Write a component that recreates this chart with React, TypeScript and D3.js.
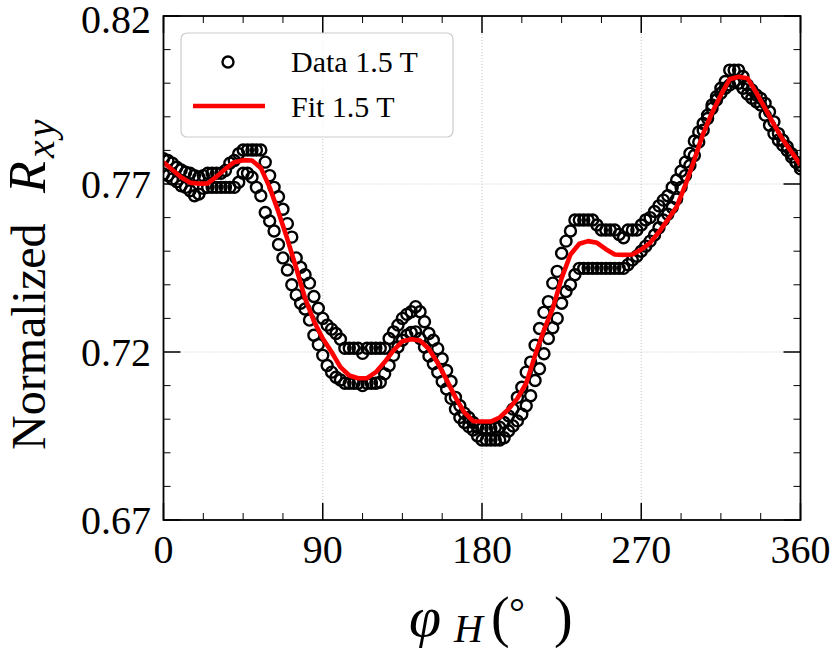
import React, { useEffect } from 'react';
import * as d3 from 'd3';

// angle step (degrees) of the measured data
const DATA_STEP = 2.5;

// upper measured branch, 0..360 deg every 2.5 deg
const upperBranch = [
  0.7775, 0.7770, 0.7762, 0.7750, 0.7742, 0.7735, 0.7732, 0.7725, 0.7720, 0.7725,
  0.7732, 0.7732, 0.7732, 0.7732, 0.7740, 0.7762, 0.7770, 0.7790, 0.7801, 0.7801,
  0.7801, 0.7801, 0.7801, 0.7765, 0.7725, 0.7690, 0.7662, 0.7625, 0.7582, 0.7542,
  0.7480, 0.7452, 0.7430, 0.7405, 0.7365, 0.7330, 0.7300, 0.7280, 0.7268, 0.7255,
  0.7238, 0.7211, 0.7211, 0.7211, 0.7211, 0.7196, 0.7211, 0.7211, 0.7211, 0.7211,
  0.7211, 0.7240, 0.7260, 0.7280, 0.7300, 0.7312, 0.7320, 0.7335, 0.7320, 0.7290,
  0.7255, 0.7235, 0.7210, 0.7180, 0.7145, 0.7112, 0.7065, 0.7040, 0.7018, 0.7005,
  0.6990, 0.6976, 0.6972, 0.6972, 0.6972, 0.6976, 0.6976, 0.6990, 0.7010, 0.7030,
  0.7065, 0.7095, 0.7140, 0.7170, 0.7220, 0.7270, 0.7318, 0.7350, 0.7405, 0.7440,
  0.7494, 0.7530, 0.7560, 0.7593, 0.7593, 0.7593, 0.7593, 0.7593, 0.7578, 0.7563,
  0.7563, 0.7563, 0.7563, 0.7550, 0.7540, 0.7563, 0.7563, 0.7563, 0.7578, 0.7593,
  0.7600, 0.7618, 0.7635, 0.7652, 0.7665, 0.7690, 0.7712, 0.7738, 0.7765, 0.7791,
  0.7828, 0.7855, 0.7880, 0.7905, 0.7935, 0.7960, 0.7985, 0.8005, 0.8039, 0.8039,
  0.8039, 0.8020, 0.7995, 0.7980, 0.7965, 0.7955, 0.7940, 0.7915, 0.7885, 0.7850,
  0.7830, 0.7811, 0.7790, 0.7765, 0.7745,
];

// lower measured branch, same angles
const lowerBranch = [
  0.7730, 0.7725, 0.7715, 0.7707, 0.7695, 0.7690, 0.7680, 0.7665, 0.7670, 0.7687,
  0.7690, 0.7690, 0.7690, 0.7690, 0.7690, 0.7690, 0.7690, 0.7705, 0.7732, 0.7732,
  0.7720, 0.7690, 0.7665, 0.7615, 0.7590, 0.7560, 0.7520, 0.7480, 0.7444, 0.7400,
  0.7370, 0.7345, 0.7328, 0.7295, 0.7250, 0.7222, 0.7190, 0.7160, 0.7140, 0.7125,
  0.7117, 0.7107, 0.7107, 0.7107, 0.7107, 0.7100, 0.7107, 0.7107, 0.7107, 0.7110,
  0.7135, 0.7160, 0.7190, 0.7215, 0.7235, 0.7250, 0.7258, 0.7260, 0.7240, 0.7215,
  0.7188, 0.7165, 0.7140, 0.7112, 0.7090, 0.7062, 0.7030, 0.7005, 0.6990, 0.6978,
  0.6968, 0.6950, 0.6938, 0.6938, 0.6938, 0.6938, 0.6938, 0.6945, 0.6965, 0.6980,
  0.6995, 0.7015, 0.7040, 0.7070, 0.7115, 0.7150, 0.7195, 0.7240, 0.7272, 0.7300,
  0.7345, 0.7380, 0.7400, 0.7430, 0.7449, 0.7449, 0.7449, 0.7449, 0.7449, 0.7449,
  0.7449, 0.7449, 0.7449, 0.7449, 0.7449, 0.7460, 0.7474, 0.7485, 0.7500, 0.7515,
  0.7530, 0.7548, 0.7570, 0.7593, 0.7610, 0.7630, 0.7655, 0.7690, 0.7725, 0.7755,
  0.7785, 0.7825, 0.7860, 0.7895, 0.7925, 0.7950, 0.7970, 0.7985, 0.7995, 0.8005,
  0.8000, 0.7985, 0.7968, 0.7955, 0.7945, 0.7935, 0.7905, 0.7875, 0.7850, 0.7830,
  0.7815, 0.7800, 0.7780, 0.7765, 0.7755,
];

// fit curve, every 5 deg
const FIT_STEP = 5;
const fitValues = [
  0.7765, 0.7742, 0.7720, 0.7704, 0.7701, 0.7702, 0.7722, 0.7745, 0.7765, 0.7771,
  0.7770, 0.7748, 0.7690, 0.7616, 0.7536, 0.7450, 0.7360, 0.7292, 0.7240, 0.7200,
  0.7155, 0.7130, 0.7122, 0.7122, 0.7140, 0.7170, 0.7205, 0.7232, 0.7238, 0.7234,
  0.7209, 0.7167, 0.7117, 0.7065, 0.7020, 0.6994, 0.6993, 0.6993, 0.7005, 0.7030,
  0.7062, 0.7107, 0.7190, 0.7265, 0.7330, 0.7420, 0.7490, 0.7522, 0.7530, 0.7525,
  0.7506, 0.7490, 0.7489, 0.7490, 0.7505, 0.7525, 0.7557, 0.7594, 0.7632, 0.7698,
  0.7772, 0.7850, 0.7912, 0.7965, 0.8012, 0.8019, 0.8015, 0.7972, 0.7925, 0.7877,
  0.7832, 0.7795, 0.7757,
];

const xTicks = [0, 90, 180, 270, 360];
const xMinorStep = 22.5;
const yTicks = [0.67, 0.72, 0.77, 0.82];
const yMinorStep = 0.01;
const legendLabels = ['Data 1.5 T', 'Fit 1.5 T'];

const W = 831;
const H = 652;
const X0 = 163.5;
const X1 = 800.5;
const Y0 = 520;
const Y1 = 16;
const FONT = "'Liberation Serif', 'DejaVu Serif', serif";

export default function App() {
  useEffect(() => {
    document.body.style.margin = '0';
  }, []);

  const x = d3.scaleLinear().domain([0, 360]).range([X0, X1]);
  const y = d3.scaleLinear().domain([0.67, 0.82]).range([Y0, Y1]);

  const points = [
    ...upperBranch.map((v, i) => [i * DATA_STEP, v]),
    ...lowerBranch.map((v, i) => [i * DATA_STEP, v]),
  ];

  const fitLine = d3
    .line<number>()
    .x((_, i) => x(i * FIT_STEP))
    .y((d) => y(d));

  const xMinor = d3.range(0, 360.001, xMinorStep).filter((t) => !xTicks.includes(t));
  const yMinor = d3
    .range(0, 16)
    .map((k) => +(0.67 + k * yMinorStep).toFixed(2))
    .filter((t) => !yTicks.includes(t));

  const majorLen = 17;
  const minorLen = 7;
  const grid = '#c4c4c4';

  return (
    <svg width={W} height={H} style={{ display: 'block', background: '#fff' }} fontFamily={FONT}>
      <defs>
        <clipPath id="plot">
          <rect x={X0} y={Y1} width={X1 - X0} height={Y0 - Y1} />
        </clipPath>
      </defs>

      {/* grid */}
      {xTicks.slice(1, -1).map((t) => (
        <line key={'gx' + t} x1={x(t)} x2={x(t)} y1={Y1} y2={Y0} stroke={grid} strokeWidth={1} strokeDasharray="1,2" />
      ))}
      {yTicks.slice(1, -1).map((t) => (
        <line key={'gy' + t} x1={X0} x2={X1} y1={y(t)} y2={y(t)} stroke={grid} strokeWidth={1} strokeDasharray="1,2" />
      ))}

      <g clipPath="url(#plot)">
        {points.map(([a, v], i) => (
          <circle key={i} cx={x(a)} cy={y(v)} r={5.5} fill="none" stroke="#000" strokeWidth={2.4} />
        ))}
        <path d={fitLine(fitValues) || ''} fill="none" stroke="#ff0000" strokeWidth={4.6} strokeLinejoin="round" />
      </g>

      {/* ticks, inward on all sides */}
      {xTicks.map((t) => (
        <g key={'tx' + t} stroke="#000" strokeWidth={1.5}>
          <line x1={x(t)} x2={x(t)} y1={Y0} y2={Y0 - majorLen} />
          <line x1={x(t)} x2={x(t)} y1={Y1} y2={Y1 + majorLen} />
        </g>
      ))}
      {xMinor.map((t) => (
        <g key={'mx' + t} stroke="#000" strokeWidth={1}>
          <line x1={x(t)} x2={x(t)} y1={Y0} y2={Y0 - minorLen} />
          <line x1={x(t)} x2={x(t)} y1={Y1} y2={Y1 + minorLen} />
        </g>
      ))}
      {yTicks.map((t) => (
        <g key={'ty' + t} stroke="#000" strokeWidth={1.5}>
          <line x1={X0} x2={X0 + majorLen} y1={y(t)} y2={y(t)} />
          <line x1={X1} x2={X1 - majorLen} y1={y(t)} y2={y(t)} />
        </g>
      ))}
      {yMinor.map((t) => (
        <g key={'my' + t} stroke="#000" strokeWidth={1}>
          <line x1={X0} x2={X0 + minorLen} y1={y(t)} y2={y(t)} />
          <line x1={X1} x2={X1 - minorLen} y1={y(t)} y2={y(t)} />
        </g>
      ))}

      <rect x={X0} y={Y1} width={X1 - X0} height={Y0 - Y1} fill="none" stroke="#000" strokeWidth={1.8} />

      {/* tick labels */}
      {xTicks.map((t) => (
        <text key={'lx' + t} x={x(t)} y={563} textAnchor="middle" fontSize={40} fill="#000">
          {t}
        </text>
      ))}
      {yTicks.map((t) => (
        <text key={'ly' + t} x={151} y={Math.max(y(t), 19)} dy="0.36em" textAnchor="end" fontSize={40} fill="#000">
          {t.toFixed(2)}
        </text>
      ))}

      {/* axis labels */}
      <g transform="translate(45, 450) rotate(-90)" fill="#000">
        <text x={0} y={0} fontSize={48}>Normalized</text>
        <text x={257} y={0} fontSize={52} fontStyle="italic">R</text>
        <text x={292} y={9} fontSize={40} fontStyle="italic" letterSpacing={3}>xy</text>
      </g>
      <g fill="#000">
        <text x={409} y={636} fontSize={58} fontStyle="italic">φ</text>
        <text x={454} y={642} fontSize={40} fontStyle="italic">H</text>
        <text x={491} y={636} fontSize={56}>(</text>
        <text x={509} y={626} fontSize={40}>°</text>
        <text x={554} y={636} fontSize={56}>)</text>
      </g>

      {/* legend */}
      <g>
        <rect x={181} y={33} width={272} height={104} rx={6} fill="#fff" fillOpacity={0.8} stroke="#cccccc" strokeWidth={1.2} />
        <circle cx={228} cy={62} r={5.5} fill="none" stroke="#000" strokeWidth={2.4} />
        <line x1={193} x2={265} y1={106} y2={106} stroke="#ff0000" strokeWidth={4.6} />
        <text x={291} y={72} fontSize={30} fill="#000">{legendLabels[0]}</text>
        <text x={291} y={117} fontSize={30} fill="#000">{legendLabels[1]}</text>
      </g>
    </svg>
  );
}
